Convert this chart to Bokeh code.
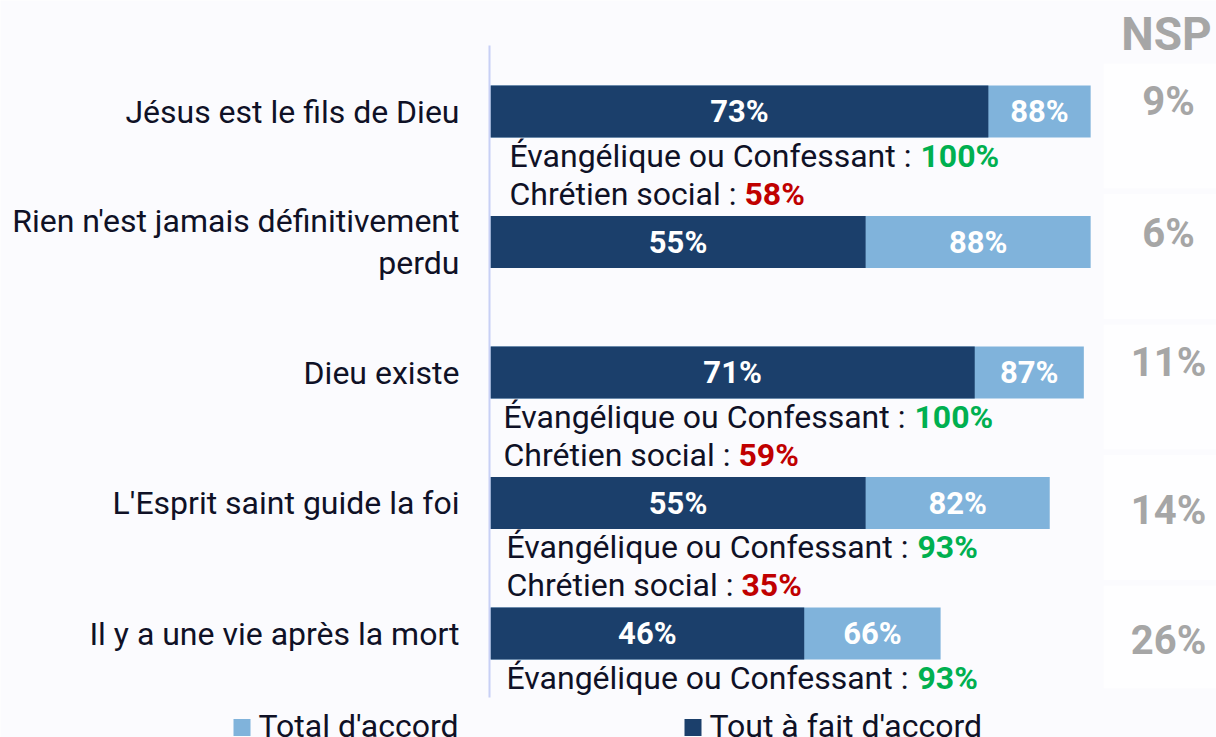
from bokeh.plotting import figure
from bokeh.models import Range1d, ColumnDataSource
from bokeh.core.properties import value
from bokeh.embed import file_html
from bokeh.resources import INLINE

# ---------------- data ----------------
categories = [
    "Jésus est le fils de Dieu",
    "Rien n'est jamais définitivement\nperdu",
    "Dieu existe",
    "L'Esprit saint guide la foi",
    "Il y a une vie après la mort",
]
tout_a_fait = [73, 55, 71, 55, 46]
total_accord = [88, 88, 87, 82, 66]
nsp = [9, 6, 11, 14, 26]
evangelique = [100, None, 100, 93, 93]
chretien_social = [58, None, 59, 35, None]
series = ["Total d'accord", "Tout à fait d'accord"]
ev_prefix = "Évangélique ou Confessant : "
cs_prefix = "Chrétien social : "

# ---------------- layout / style ----------------
W, H = 1216, 737
ORIGIN_PX = 490        # x pixel of 0 %
PX_PER_PCT = 6.82
ROW0_PX = 111          # y pixel of first row centre
ROW_PX = 130.5         # row spacing in px
BG = "#fbfbfe"
DARK = "#1b3f6b"
LIGHT = "#80b3db"
GREY = "#a6a6a6"
INK = "#0f1126"
GREEN = "#00b050"
RED = "#c00000"
FONT = value("Roboto")


def dx(px):
    return px / PX_PER_PCT


def ry(px):
    return px / ROW_PX


def xp(px):  # absolute pixel -> data x
    return dx(px - ORIGIN_PX)


def yp(px):  # absolute pixel -> data y
    return ry(px - ROW0_PX)


p = figure(
    width=W, height=H, output_backend="svg", toolbar_location=None,
    x_axis_type=None, y_axis_type=None, min_border=0,
    x_range=Range1d(xp(0), xp(W)),
    y_range=Range1d(yp(H), yp(0)),
    background_fill_color=BG, border_fill_color=BG, outline_line_color=None,
)
p.grid.visible = False

n = len(categories)
idx = list(range(n))

# NSP faint boxes
p.quad(left=[xp(1103)] * n, right=[xp(W + 5)] * n,
       top=[i + ry(-48) for i in idx],
       bottom=[i + ry(77) if i < n - 1 else i + ry(55) for i in idx],
       fill_color="#ffffff", fill_alpha=0.7, line_color=None)

# bars
src = ColumnDataSource(dict(y=idx, total=total_accord, tout=tout_a_fait,
                            tl=[t / 2 for t in tout_a_fait],
                            ll=[(a + b) / 2 for a, b in zip(tout_a_fait, total_accord)],
                            tot_lbl=[f"{v}%" for v in total_accord],
                            tout_lbl=[f"{v}%" for v in tout_a_fait]))
bh = ry(52)
p.hbar(y="y", left=0, right="total", height=bh, fill_color=LIGHT, line_color=None, source=src)
p.hbar(y="y", left=0, right="tout", height=bh, fill_color=DARK, line_color=None, source=src)

# axis line
p.segment(x0=[xp(489)], x1=[xp(489)], y0=[yp(45)], y1=[yp(697)],
          line_color="#c8d0f5", line_width=2)

lbl_kw = dict(text_font=FONT, text_font_style="bold", text_font_size="31px",
              text_color="white", text_align="center", text_baseline="middle")
p.text(x="tl", y="y", text="tout_lbl", source=src, **lbl_kw)
p.text(x="ll", y="y", text="tot_lbl", source=src, **lbl_kw)

# category labels
p.text(x=[xp(459)] * n, y=idx, text=categories,
       text_font=FONT, text_font_size="32px", text_color=INK,
       text_align="right", text_baseline="middle", text_line_height=1.1)

# sub-group annotations
ann_x = [509, None, 503, 506, 506]
ann_kw = dict(text_font=FONT, text_font_size="32px", text_color=INK,
              text_align="left", text_baseline="middle")
val_kw = dict(text_font=FONT, text_font_size="32px", text_font_style="bold",
              text_align="left", text_baseline="middle")
EV_W = 411
CS_W = 235
for i in idx:
    if evangelique[i] is None:
        continue
    x0 = xp(ann_x[i])
    y1 = i + ry(44)
    p.text(x=[x0], y=[y1], text=[ev_prefix], **ann_kw)
    p.text(x=[x0 + dx(EV_W)], y=[y1], text=[f"{evangelique[i]}%"], text_color=GREEN, **val_kw)
    if chretien_social[i] is not None:
        y2 = i + ry(82)
        p.text(x=[x0], y=[y2], text=[cs_prefix], **ann_kw)
        p.text(x=[x0 + dx(CS_W)], y=[y2], text=[f"{chretien_social[i]}%"], text_color=RED, **val_kw)

# NSP column
nsp_off = [-10, -9, -10, 7, 7]
p.text(x=[xp(1166)], y=[yp(33)], text=["NSP"],
       text_font=FONT, text_font_style="bold", text_font_size="46px", text_color=GREY,
       text_align="center", text_baseline="middle")
p.text(x=[xp(1168)] * n, y=[i + ry(o) for i, o in zip(idx, nsp_off)],
       text=[f"{v}%" for v in nsp],
       text_font=FONT, text_font_style="bold", text_font_size="40px", text_color=GREY,
       text_align="center", text_baseline="middle")

# legend (manual, bottom)
leg_x = [233, 684]
leg_col = [LIGHT, DARK]
leg_y = yp(725)
for lx, col, name in zip(leg_x, leg_col, series):
    p.rect(x=[xp(lx + 8.5)], y=[yp(727)], width=dx(17), height=ry(17),
           fill_color=col, line_color=None)
    p.text(x=[xp(lx + 25)], y=[leg_y], text=[name],
           text_font=FONT, text_font_size="32px", text_color=INK,
           text_align="left", text_baseline="middle")

open("out.html", "w").write(file_html(p, INLINE))
